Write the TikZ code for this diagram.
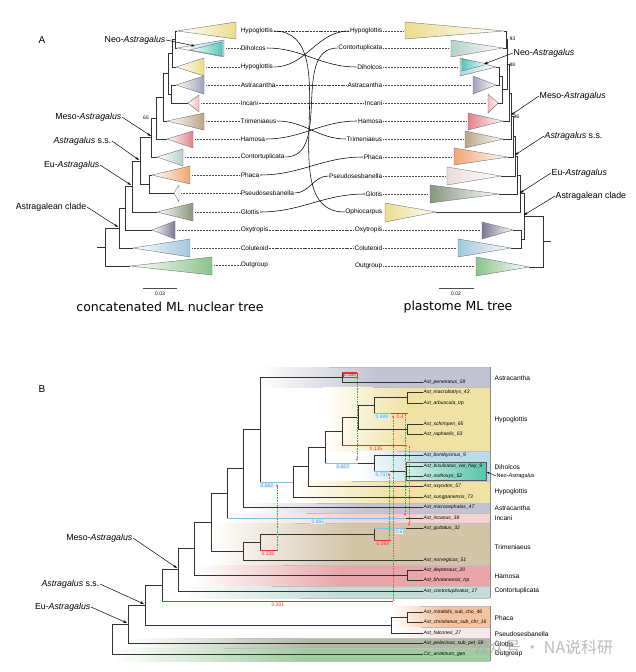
\documentclass[tikz,border=0pt]{standalone}
\usepackage{fontspec}
\setmainfont{Liberation Sans}
\newfontfamily\titlefont{DejaVu Sans}
\newfontfamily\cjkfont{Noto Sans CJK SC}
\usetikzlibrary{arrows.meta}
\definecolor{cHyp}{RGB}{236,220,140}
\definecolor{cDih}{RGB}{90,200,185}
\definecolor{cDihB}{RGB}{170,215,230}
\definecolor{cAst}{RGB}{160,160,185}
\definecolor{cInc}{RGB}{240,190,185}
\definecolor{cTri}{RGB}{185,165,135}
\definecolor{cHam}{RGB}{225,130,135}
\definecolor{cCon}{RGB}{180,210,200}
\definecolor{cPha}{RGB}{240,165,115}
\definecolor{cPse}{RGB}{235,220,220}
\definecolor{cGlo}{RGB}{135,150,125}
\definecolor{cOxy}{RGB}{125,120,145}
\definecolor{cCol}{RGB}{160,200,220}
\definecolor{cOut}{RGB}{140,195,140}
\definecolor{bAst}{RGB}{195,195,210}
\definecolor{bHyp}{RGB}{240,226,165}
\definecolor{bDih}{RGB}{190,220,232}
\definecolor{bInc}{RGB}{245,210,210}
\definecolor{bTri}{RGB}{212,196,168}
\definecolor{bHam}{RGB}{232,165,170}
\definecolor{bCon}{RGB}{195,220,215}
\definecolor{bPha}{RGB}{245,195,160}
\definecolor{bPse}{RGB}{245,232,232}
\definecolor{bGlo}{RGB}{175,185,165}
\definecolor{bOut}{RGB}{160,205,160}
\definecolor{bNeo}{RGB}{90,195,170}
\definecolor{cRed}{RGB}{240,45,45}
\definecolor{cPinkRed}{RGB}{255,80,80}
\definecolor{cBlue}{RGB}{70,160,225}
\newcommand{\LTri}[6]{\shade[draw=black!55,line width=0.4pt,left color=white,right color=#6] (#1,#2) -- (#3,#4) -- (#3,#5) -- cycle;}
\newcommand{\RTri}[6]{\shade[draw=black!55,line width=0.4pt,left color=#6,right color=white] (#1,#2) -- (#3,#4) -- (#3,#5) -- cycle;}
\newcommand{\Elbow}[5]{\draw[br] (#2,#3) -- (#1,#3) -- (#1,#5) -- (#4,#5);}
\newcommand{\Bbox}[4]{%
  \shade[left color=white,right color=#4] (#1,#2) rectangle ({#1+0.5*(490-#1)+0.5},#3);
  \fill[#4] ({#1+0.5*(490-#1)},#2) rectangle (490,#3);
  \draw[black!25,line width=0.5pt] ({#1+0.3*(490-#1)},#2) -- (490,#2);}
\begin{document}
\begin{tikzpicture}[x=1pt,y=-1pt,
  br/.style={draw=black!80,line width=0.6pt},
  lab/.style={font=\fontsize{6.5}{7}\selectfont,inner sep=0.6pt},
  cl/.style={font=\fontsize{8.8}{10}\selectfont,inner sep=0.5pt},
  leader/.style={draw=black!70,line width=0.4pt,dash pattern=on 0.6pt off 0.9pt},
  tang/.style={draw=black,line width=0.55pt},
  tangd/.style={draw=black!75,line width=0.55pt,dash pattern=on 2pt off 0.8pt},
  ann/.style={draw=black,line width=0.5pt,-{Stealth[length=4pt,width=2.6pt]}},
  bnum/.style={font=\fontsize{5}{5}\selectfont,inner sep=0.4pt,text=cBlue,fill=cBlue!15},
  rnum/.style={font=\fontsize{5}{5}\selectfont,inner sep=0.4pt,text=cRed},
  tiplab/.style={font=\fontsize{5}{6}\selectfont\itshape,inner sep=0.5pt,anchor=west},
  bcl/.style={font=\fontsize{6.6}{7}\selectfont,inner sep=0.5pt,anchor=west},
  hyb/.style={draw=cPinkRed,line width=0.6pt,dash pattern=on 1.6pt off 1pt,-{Stealth[length=2.8pt,width=2.4pt]}},
  redl/.style={draw=cRed,line width=0.7pt},
  bluel/.style={draw=cBlue!70,line width=1pt},
  num/.style={font=\fontsize{5}{5}\selectfont,inner sep=0.5pt}
]
\useasboundingbox (0,0) rectangle (636,672);
\fill[white] (0,0) rectangle (636,672);

\node[font=\fontsize{10}{12}\selectfont] (labA) at (42,40) {A};
\node[font=\fontsize{10}{12}\selectfont] (labB) at (42,389) {B};

% ---------- Panel A left triangles
\LTri{177}{31}{236}{22}{39}{cHyp}
\LTri{177}{48}{224}{40}{57}{cDihB}
\LTri{190}{50}{222}{42}{56}{cDih}
\LTri{176}{67}{204}{58}{76}{cHyp}
\LTri{176}{85}{204}{76}{94}{cAst}
\LTri{188}{103}{199}{95}{112}{cInc}
\LTri{167}{121}{204}{113}{130}{cTri}
\LTri{167}{139}{193}{131}{148}{cHam}
\LTri{157}{157}{183}{149}{166}{cCon}
\LTri{152}{175}{190}{166}{184}{cPha}
\LTri{174}{193}{179}{185}{202}{white}
\LTri{157}{212}{193}{203}{221}{cGlo}
\LTri{152}{230}{175}{221}{239}{cOxy}
\LTri{133}{248}{190}{239}{257}{cCol}
\LTri{130}{266}{212}{257}{275}{cOut}

% left tree
\Elbow{175}{177}{31}{177}{48}
\Elbow{172}{175}{39.5}{176}{67}
\Elbow{171}{176}{85}{188}{103}
\Elbow{168}{172}{53}{171}{94}
\Elbow{163}{168}{73.5}{167}{121}
\Elbow{156}{163}{97}{167}{139}
\Elbow{151}{156}{118}{157}{157}
\Elbow{149}{152}{175}{174}{193}
\Elbow{140}{151}{137.5}{149}{184}
\Elbow{132}{140}{161}{157}{212}
\Elbow{125}{132}{186}{152}{230}
\Elbow{119}{125}{208}{133}{248}
\Elbow{105}{119}{228}{130}{266}
\draw[br] (97,247) -- (105,247);
\node[num] (n65) at (146,118) {65};

% left labels
\node[lab,anchor=west] (lHypA) at (240,31) {Hypoglottis};
\node[lab,anchor=west] (lDih) at (240,48) {Diholcos};
\node[lab,anchor=west] (lHypB) at (240,67) {Hypoglottis};
\node[lab,anchor=west] (lAst) at (240,85) {Astracantha};
\node[lab,anchor=west] (lInc) at (240,103) {Incani};
\node[lab,anchor=west] (lTri) at (240,121) {Trimeniaeus};
\node[lab,anchor=west] (lHam) at (240,139) {Hamosa};
\node[lab,anchor=west] (lCon) at (240,157) {Contortuplicata};
\node[lab,anchor=west] (lPha) at (240,175) {Phaca};
\node[lab,anchor=west] (lPse) at (240,193) {Pseudosesbanella};
\node[lab,anchor=west] (lGlo) at (240,212) {Glottis};
\node[lab,anchor=west] (lOxy) at (240,230) {Oxytropis};
\node[lab,anchor=west] (lCol) at (240,248) {Coluteoid};
\node[lab,anchor=west] (lOut) at (240,265) {Outgroup};
\draw[leader] (226,48) -- (lDih.west);
\draw[leader] (206,67) -- (lHypB.west);
\draw[leader] (206,85) -- (lAst.west);
\draw[leader] (201,103) -- (lInc.west);
\draw[leader] (206,121) -- (lTri.west);
\draw[leader] (195,139) -- (lHam.west);
\draw[leader] (185,157) -- (lCon.west);
\draw[leader] (192,175) -- (lPha.west);
\draw[leader] (181,193) -- (lPse.west);
\draw[leader] (195,212) -- (lGlo.west);
\draw[leader] (177,230) -- (lOxy.west);
\draw[leader] (192,248) -- (lCol.west);
\draw[leader] (214,265) -- (lOut.west);

% left annotations
\node[cl,anchor=east] (lNeo) at (166,40) {Neo-\textit{Astragalus}};
\node[cl,anchor=east] (lMeso) at (122,117) {Meso-\textit{Astragalus}};
\node[cl,anchor=east] (lAss) at (112,141) {\textit{Astragalus} s.s.};
\node[cl,anchor=east] (lEu) at (100,165) {Eu-\textit{Astragalus}};
\node[cl,anchor=east] (lAcl) at (87,207) {Astragalean clade};
\draw[ann] (lNeo.east) -- (195,46);
\draw[ann] (lMeso.east) -- (151,136);
\draw[ann] (lAss.east) -- (139,160);
\draw[ann] (lEu.east) -- (131,185);
\draw[ann] (lAcl.east) -- (118,227);

% scale bar left and title
\draw[black!70,line width=0.5pt] (143,288) -- (177,288);
\node[num] (sb1) at (160,294) {0.03};
\node[font=\titlefont\fontsize{12.5}{14}\selectfont] (title1) at (170,307) {concatenated ML nuclear tree};

% ---------- Panel A right triangles
\RTri{504}{31}{405}{22}{39}{cHyp}
\RTri{503}{48}{451}{40}{57}{cCon}
\RTri{496}{67}{460}{58}{76}{cDihB}
\RTri{488}{64}{462}{59}{71}{cDih}
\RTri{496}{85}{473}{76}{94}{cAst}
\RTri{498}{103}{488}{94}{113}{cInc}
\RTri{503}{121}{468}{113}{130}{cHam}
\RTri{503}{139}{465}{131}{148}{cTri}
\RTri{508}{157}{454}{148}{165}{cPha}
\RTri{501}{176}{447}{167}{185}{cPse}
\RTri{499}{194}{430}{185}{203}{cGlo}
\RTri{436}{212}{385}{203}{222}{cHyp}
\RTri{513}{230}{482}{222}{239}{cOxy}
\RTri{511}{248}{458}{239}{257}{cCol}
\RTri{529}{267}{476}{257}{276}{cOut}

% right tree
\Elbow{506}{504}{31}{503}{48}
\Elbow{499}{496}{67}{496}{85}
\Elbow{502}{499}{76}{498}{103}
\Elbow{507.5}{506}{39.5}{502}{89.5}
\Elbow{509}{507.5}{64.5}{503}{121}
\Elbow{511}{509}{93}{503}{139}
\Elbow{513}{511}{116}{508}{157}
\Elbow{515}{513}{136.5}{501}{176}
\Elbow{517}{515}{156}{499}{194}
\Elbow{520}{517}{175}{436}{212}
\Elbow{521}{513}{230}{511}{248}
\Elbow{524}{520}{193.5}{521}{239}
\Elbow{543}{524}{216}{529}{267}
\draw[br] (543,241.5) -- (551,241.5);
\node[num,anchor=west] (n93) at (509,39) {93};
\node[num,anchor=west] (n88) at (509,65) {88};
\node[num,anchor=west] (n96) at (513,117) {96};

% right labels
\node[lab,anchor=east] (rHyp) at (383,31) {Hypoglottis};
\node[lab,anchor=east] (rCon) at (383,48) {Contortuplicata};
\node[lab,anchor=east] (rDih) at (383,67) {Diholcos};
\node[lab,anchor=east] (rAst) at (383,85) {Astracantha};
\node[lab,anchor=east] (rInc) at (383,103) {Incani};
\node[lab,anchor=east] (rHam) at (383,121) {Hamosa};
\node[lab,anchor=east] (rTri) at (383,139) {Trimeniaeus};
\node[lab,anchor=east] (rPha) at (383,157) {Phaca};
\node[lab,anchor=east] (rPse) at (383,176) {Pseudosesbanella};
\node[lab,anchor=east] (rGlo) at (383,194) {Glotis};
\node[lab,anchor=east] (rOph) at (383,212) {Ophiocarpus};
\node[lab,anchor=east] (rOxy) at (383,230) {Oxytropis};
\node[lab,anchor=east] (rCol) at (383,248) {Coluteoid};
\node[lab,anchor=east] (rOut) at (383,266) {Outgroup};
\draw[leader] (rHyp.east) -- (403,31);
\draw[leader] (rCon.east) -- (449,48);
\draw[leader] (rDih.east) -- (458,67);
\draw[leader] (rAst.east) -- (471,85);
\draw[leader] (rInc.east) -- (486,103);
\draw[leader] (rHam.east) -- (466,121);
\draw[leader] (rTri.east) -- (463,139);
\draw[leader] (rPha.east) -- (452,157);
\draw[leader] (rPse.east) -- (445,176);
\draw[leader] (rGlo.east) -- (428,194);
\draw[leader] (rOxy.east) -- (480,230);
\draw[leader] (rCol.east) -- (456,248);
\draw[leader] (rOut.east) -- (474,266);

% right annotations
\node[cl,anchor=west] (rNeo) at (513,53) {Neo-\textit{Astragalus}};
\node[cl,anchor=west] (rMeso) at (539,96) {Meso-\textit{Astragalus}};
\node[cl,anchor=west] (rAss) at (544,136) {\textit{Astragalus} s.s.};
\node[cl,anchor=west] (rEu) at (551,173) {Eu-\textit{Astragalus}};
\node[cl,anchor=west] (rAcl) at (555,196) {Astragalean clade};
\draw[ann] (rNeo.west) -- (484,64);
\draw[ann] (rMeso.west) -- (511,115);
\draw[ann] (rAss.west) -- (515,155);
\draw[ann] (rEu.west) -- (520,193);
\draw[ann] (rAcl.west) -- (524,215);

\draw[black!70,line width=0.5pt] (439,288) -- (474,288);
\node[num] (sb2) at (456,294) {0.02};
\node[font=\titlefont\fontsize{12.5}{14}\selectfont] (title2) at (458,307) {plastome ML tree};

% tanglegram
\draw[tangd] (lHypA.east) -- (rHyp.west);
\draw[tang] (lHypA.east) to[out=0,in=180] (rOph.west);
\draw[tang] (lDih.east) to[out=0,in=180] (rDih.west);
\draw[tang] (lHypB.east) to[out=0,in=180] (rHyp.west);
\draw[tangd] (lAst.east) -- (rAst.west);
\draw[tangd] (lInc.east) -- (rInc.west);
\draw[tang] (lTri.east) to[out=0,in=180] (rTri.west);
\draw[tang] (lHam.east) to[out=0,in=180] (rHam.west);
\draw[tang] (lCon.east) to[out=0,in=180] (rCon.west);
\draw[tang] (lPha.east) to[out=0,in=180] (rPha.west);
\draw[tang] (lPse.east) to[out=0,in=180] (rPse.west);
\draw[tang] (lGlo.east) to[out=0,in=180] (rGlo.west);
\draw[tangd] (lOxy.east) -- (rOxy.west);
\draw[tangd] (lCol.east) -- (rCol.west);

% ---------- Panel B boxes
\Bbox{260}{367}{387}{bAst}
\Bbox{323}{387}{451}{bHyp}
\Bbox{358}{451}{481}{bDih}
\Bbox{293}{481}{503}{bHyp}
\Bbox{243}{503}{513}{bAst}
\Bbox{227}{513}{523}{bInc}
\Bbox{211}{523}{565}{bTri}
\Bbox{194}{565}{586}{bHam}
\Bbox{178}{586}{598}{bCon}
\Bbox{391}{606}{627}{bPha}
\Bbox{391}{627}{638}{bPse}
\Bbox{128}{638}{648}{bGlo}
\Bbox{112}{648}{661}{bOut}
\draw[black!45,line width=0.8pt] (490,367) -- (490,598) (490,606) -- (490,661);
\draw[black!25,line width=0.5pt] (300,598) -- (490,598) (300,661) -- (490,661);
\shade[left color=bNeo!25,right color=bNeo,draw=black!65,line width=0.5pt] (406,462) rectangle (486,480);

% tip labels
\node[tiplab] (t1) at (423,382) {Ast\_peneiratus\_59};
\node[tiplab] (t2) at (423,392) {Ast\_macrobotrys\_43};
\node[tiplab] (t3) at (423,403) {Ast\_arbuscula\_trp};
\node[tiplab] (t4) at (423,424) {Ast\_schimperi\_65};
\node[tiplab] (t5) at (423,434) {Ast\_raphaelis\_63};
\node[tiplab] (t6) at (423,455) {Ast\_bombycinus\_9};
\node[tiplab] (t7) at (423,466) {Ast\_bisulcatus\_var\_hay\_9};
\node[tiplab] (t8) at (423,476) {Ast\_nothoxys\_52};
\node[tiplab] (t9) at (423,486) {Ast\_oxyodon\_57};
\node[tiplab] (t10) at (423,497) {Ast\_sungpanensis\_73};
\node[tiplab] (t11) at (423,507) {Ast\_microcephalus\_47};
\node[tiplab] (t12) at (423,518) {Ast\_incanus\_38};
\node[tiplab] (t13) at (423,528) {Ast\_guttatus\_32};
\node[tiplab] (t14) at (423,560) {Ast\_norvegicus\_51};
\node[tiplab] (t15) at (423,570) {Ast\_depressus\_20};
\node[tiplab] (t16) at (423,580) {Ast\_bhotanensis\_trp};
\node[tiplab] (t17) at (423,591) {Ast\_contortuplicatus\_17};
\node[tiplab] (t18) at (423,612) {Ast\_mirabilis\_sub\_cho\_46};
\node[tiplab] (t19) at (423,622) {Ast\_christianus\_sub\_chr\_16};
\node[tiplab] (t20) at (423,633) {Ast\_falconeri\_27};
\node[tiplab] (t21) at (423,643) {Ast\_pelecinus\_sub\_pel\_58};
\node[tiplab] (t22) at (423,654) {Cic\_arietinum\_gen};

% clade labels B
\node[bcl] (cb1) at (494,378) {Astracantha};
\node[bcl] (cb2) at (494,420) {Hypoglottis};
\node[bcl] (cb3) at (494,467) {Diholcos};
\node[bcl] (cb4) at (494,492) {Hypoglottis};
\node[bcl] (cb5) at (494,508) {Astracantha};
\node[bcl] (cb6) at (494,518) {Incani};
\node[bcl] (cb7) at (494,547) {Trimeniaeus};
\node[bcl] (cb8) at (494,576) {Hamosa};
\node[bcl] (cb9) at (494,591) {Contortuplicata};
\node[bcl] (cb10) at (494,618) {Phaca};
\node[bcl] (cb11) at (494,634) {Pseudosesbanella};
\node[bcl] (cb12) at (494,644) {Glottis};
\node[bcl] (cb13) at (494,654) {Outgroup};
\node[font=\fontsize{5.5}{6}\selectfont,inner sep=0.5pt,anchor=west] (bNeoL) at (496,476) {Neo-\textit{Astragalus}};
\draw[draw=black,line width=0.4pt,-{Stealth[length=2.5pt,width=2pt]}] (bNeoL.west) -- (487,472);

% tree B verticals
\draw[br] (342,372) -- (342,382);
\draw[br] (407,392) -- (407,403);
\draw[br] (374,397) -- (374,413);
\draw[br] (407,424) -- (407,434);
\draw[br] (358,405) -- (358,429);
\draw[br] (342,417) -- (342,445);
\draw[br] (406,466) -- (406,476);
\draw[br] (374,455) -- (374,471);
\draw[br] (325,431) -- (325,463);
\draw[br] (308,447) -- (308,486);
\draw[br] (293,466) -- (293,497);
\draw[br] (260,377) -- (260,482);
\draw[br] (243,429) -- (243,507);
\draw[br] (227,468) -- (227,518);
\draw[br] (374,528) -- (374,540);
\draw[br] (260,534) -- (260,550);
\draw[br] (243,542) -- (243,560);
\draw[br] (211,493) -- (211,551);
\draw[br] (407,570) -- (407,580);
\draw[br] (194,522) -- (194,575);
\draw[br] (178,548) -- (178,591);
\draw[br] (162,569) -- (162,601);
\draw[br] (407,612) -- (407,622);
\draw[br] (391,617) -- (391,633);
\draw[br] (145,585) -- (145,625);
\draw[br] (128,605) -- (128,643);
\draw[br] (112,624) -- (112,654);
% horizontals
\draw[br] (342,382) -- (t1.west);
\draw[br] (260,377) -- (342,377);
\draw[br] (407,392) -- (t2.west);
\draw[br] (407,403) -- (t3.west);
\draw[br] (374,397) -- (407,397);
\draw[br] (407,424) -- (t4.west);
\draw[br] (407,434) -- (t5.west);
\draw[br] (358,405) -- (374,405);
\draw[br] (358,429) -- (407,429);
\draw[br] (342,417) -- (358,417);
\draw[br] (406,466) -- (t7.west);
\draw[br] (406,476) -- (t8.west);
\draw[br] (374,455) -- (t6.west);
\draw[br] (390,471) -- (406,471);
\draw[br] (325,431) -- (342,431);
\draw[br] (358,463) -- (374,463);
\draw[br] (308,447) -- (325,447);
\draw[br] (308,486) -- (t9.west);
\draw[br] (293,466) -- (308,466);
\draw[br] (293,497) -- (t10.west);
\draw[br] (243,429) -- (260,429);
\draw[br] (243,507) -- (t11.west);
\draw[br] (227,468) -- (243,468);
\draw[br] (406,518) -- (t12.west);
\draw[br] (406,528) -- (t13.west);
\draw[br] (260,534) -- (374,534);
\draw[br] (243,542) -- (260,542);
\draw[br] (243,560) -- (t14.west);
\draw[br] (211,493) -- (227,493);
\draw[br] (211,551) -- (243,551);
\draw[br] (407,570) -- (t15.west);
\draw[br] (407,580) -- (t16.west);
\draw[br] (194,522) -- (211,522);
\draw[br] (194,575) -- (407,575);
\draw[br] (178,548) -- (194,548);
\draw[br] (178,591) -- (t17.west);
\draw[br] (162,569) -- (178,569);
\draw[br] (407,612) -- (t18.west);
\draw[br] (407,622) -- (t19.west);
\draw[br] (391,617) -- (407,617);
\draw[br] (391,633) -- (t20.west);
\draw[br] (145,585) -- (162,585);
\draw[br] (145,625) -- (391,625);
\draw[br] (128,605) -- (145,605);
\draw[br] (128,643) -- (t21.west);
\draw[br] (112,624) -- (128,624);
\draw[br] (112,654) -- (t22.west);
% coloured hybrid edges
\draw[redl] (342,372) -- (357,372);
\draw[bluel] (374,413) -- (391,413);
\draw[redl] (391,413) -- (408,413);
\draw[redl] (342,445) -- (407,445);
\draw[bluel] (374,471) -- (390,471);
\draw[bluel] (325,463) -- (358,463);
\draw[bluel] (260,482) -- (293,482);
\draw[bluel] (227,518) -- (406,518);
\draw[bluel] (374,528) -- (406,528);
\draw[redl] (374,540) -- (391,540);
\draw[redl] (260,550) -- (277,550);
\draw[redl] (162,601) -- (393,601);
% numbers
\node[rnum,draw=cRed,line width=0.3pt] (v360) at (350,375) {0.360};
\node[bnum] (v899) at (382,416.5) {0.899};
\node[rnum] (v04) at (400,416.5) {0.4};
\node[rnum] (v135) at (376,449) {0.135};
\node[bnum] (v607) at (343,466.5) {0.607};
\node[bnum] (v737) at (382,474.5) {0.737};
\node[bnum] (v662) at (267,485.5) {0.662};
\node[bnum] (v865) at (318,521.5) {0.865};
\node[bnum] (v06) at (399,531.5) {0.6};
\node[rnum] (v283) at (383,543.5) {0.283};
\node[rnum] (v338) at (268,553.5) {0.338};
\node[rnum] (v301) at (278,604.5) {0.301};
% reticulation arrows
\draw[hyb] (357,378) -- (357,461);
\draw[hyb] (277,551) -- (277,484);
\draw[hyb] (389,541) -- (389,473);
\draw[hyb] (393,601) -- (393,415);
\draw[hyb] (405,414) -- (405,516);
\draw[hyb] (409,446) -- (409,526);

% B annotations
\node[cl,anchor=east] (bMeso) at (133,538) {Meso-\textit{Astragalus}};
\node[cl,anchor=east] (bAss) at (100,584) {\textit{Astragalus} s.s.};
\node[cl,anchor=east] (bEu) at (91,607) {Eu-\textit{Astragalus}};
\draw[ann] (bMeso.east) -- (177,568);
\draw[ann] (bAss.east) -- (144,604);
\draw[ann] (bEu.east) -- (127,623);

% watermark
\node[font=\cjkfont\fontsize{16}{18}\selectfont,text=black!35,opacity=0.75] (wm) at (543,647) {公众号 · NA说科研};
\end{tikzpicture}
\end{document}
